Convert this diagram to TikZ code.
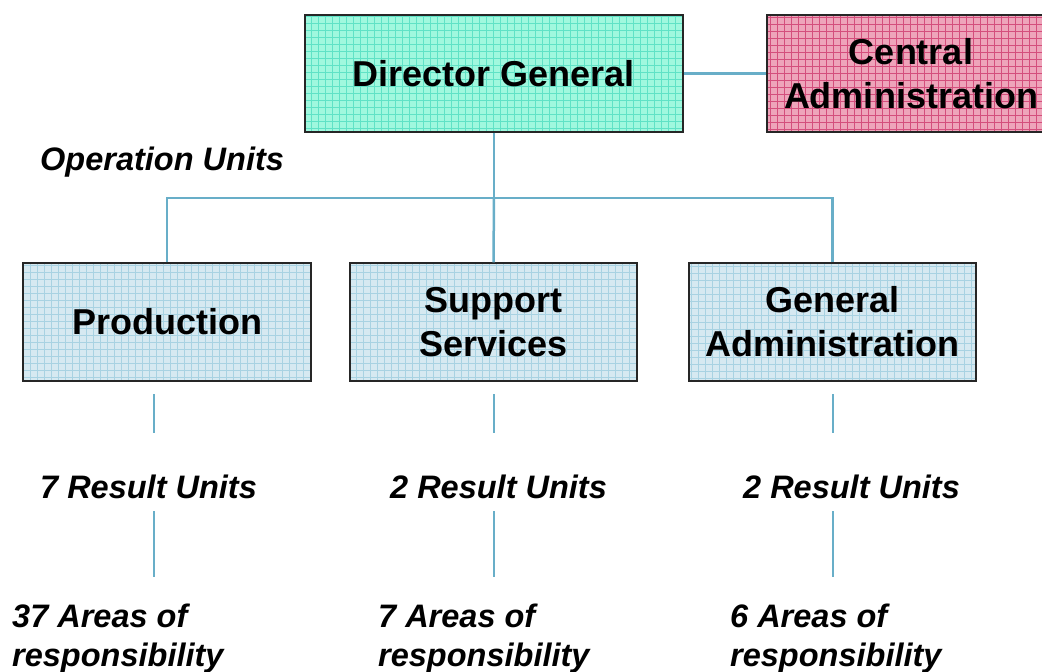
\documentclass[tikz,border=0pt]{standalone}
\usepackage{fontspec}
\setmainfont{Liberation Sans}
\definecolor{dgfill}{RGB}{160,248,222}
\definecolor{dggrid}{RGB}{96,226,198}
\definecolor{cafill}{RGB}{238,164,186}
\definecolor{cagrid}{RGB}{212,78,124}
\definecolor{ufill}{RGB}{214,233,241}
\definecolor{ugrid}{RGB}{168,210,226}
\definecolor{linkblue}{RGB}{104,174,200}
\tikzset{
  gridbox/.style={draw=black!85, line width=1.4pt, fill=#1fill,
    font=\bfseries\fontsize{36}{44}\selectfont, align=center, inner sep=0pt,
    path picture={\draw[#1grid, line width=0.45pt, step=7pt]
      (path picture bounding box.south west) grid (path picture bounding box.north east);}},
  unitlabel/.style={font=\bfseries\itshape\fontsize{32.5}{39}\selectfont,
    align=left, inner sep=0pt, anchor=base west},
  link/.style={linkblue, line width=2.5pt}
}
\begin{document}
\begin{tikzpicture}[x=1pt,y=-1pt]
  \clip (0,0) rectangle (1042,672);
  \fill[white] (0,0) rectangle (1042,672);
  \draw
    (494,73.5) node[gridbox=dg, minimum width=378pt, minimum height=117pt] (dg){Director General}
    (911,73.5) node[gridbox=ca, minimum width=288pt, minimum height=117pt] (ca){Central\\Administration}
    (167,322) node[gridbox=u, minimum width=288pt, minimum height=118pt] (prod){Production}
    (493.5,322) node[gridbox=u, minimum width=287pt, minimum height=118pt] (supp){Support\\Services}
    (832.5,322) node[gridbox=u, minimum width=287pt, minimum height=118pt] (gadm){General\\Administration};
  \node[unitlabel] (ops) at (40,170) {Operation Units};
  \node[unitlabel] (prodru) at (40,498) {7 Result Units};
  \node[unitlabel] (suppru) at (390,498) {2 Result Units};
  \node[unitlabel] (gadmru) at (743,498) {2 Result Units};
  \node[unitlabel] (prodar) at (12,666) {37 Areas of\\responsibility};
  \node[unitlabel] (suppar) at (378,666) {7 Areas of\\responsibility};
  \node[unitlabel] (gadmar) at (730,666) {6 Areas of\\responsibility};
  \coordinate (bar) at (494,198);
  \coordinate (prodtop) at (154,394);
  \coordinate (prodmid) at (154,433);
  \coordinate (prodlow) at (154,511);
  \coordinate (prodend) at (154,577);
  \coordinate (supptop) at (494,394);
  \coordinate (suppmid) at (494,433);
  \coordinate (supplow) at (494,511);
  \coordinate (suppend) at (494,577);
  \coordinate (gadmtop) at (833,394);
  \coordinate (gadmmid) at (833,433);
  \coordinate (gadmlow) at (833,511);
  \coordinate (gadmend) at (833,577);
  \begin{scope}[link]
    \draw (dg) to (ca);
    \draw (dg.south) to (bar);
    \draw (prod.north) |- (bar);
    \draw (supp.north) to (bar);
    \draw (gadm.north) |- (bar);
    \draw (prodtop) to (prodmid);
    \draw (prodlow) to (prodend);
    \draw (supptop) to (suppmid);
    \draw (supplow) to (suppend);
    \draw (gadmtop) to (gadmmid);
    \draw (gadmlow) to (gadmend);
  \end{scope}
\end{tikzpicture}
\end{document}
